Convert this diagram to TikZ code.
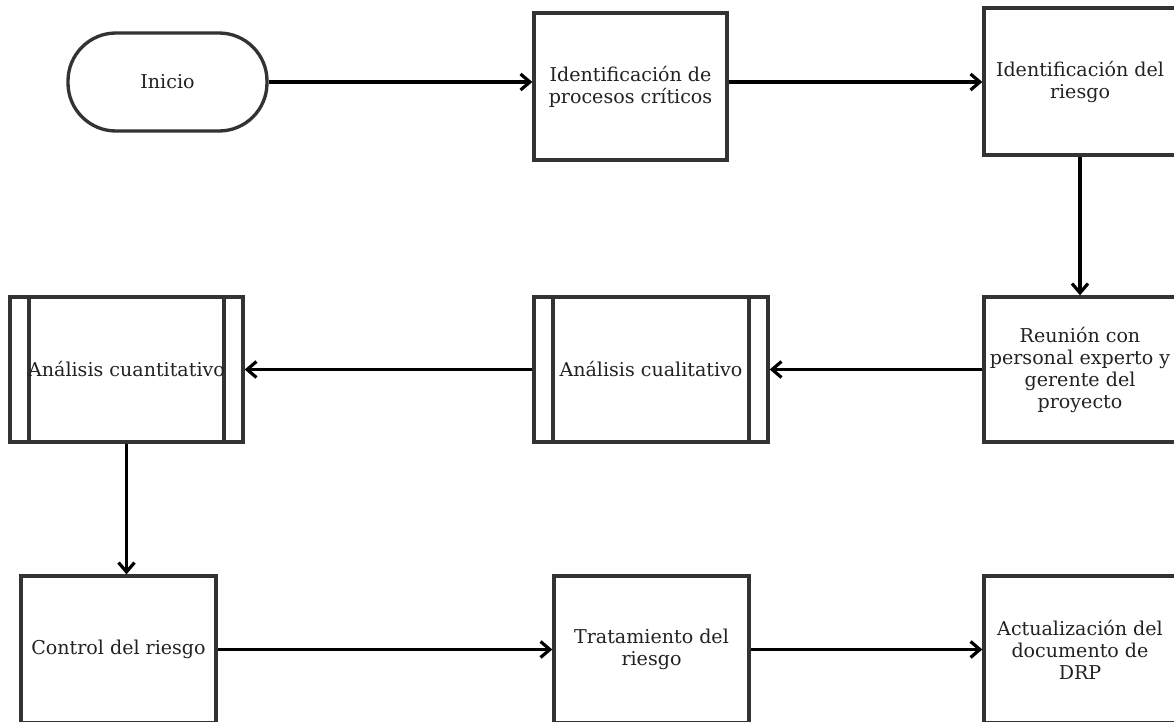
\documentclass[tikz,border=0pt]{standalone}
\usepackage{fontspec}
\setmainfont{DejaVu Serif}
\usetikzlibrary{arrows.meta}
\definecolor{edge}{HTML}{333333}
\definecolor{ink}{HTML}{222222}
\tikzset{
  box/.style={draw=edge, line width=2.5pt, fill=white, text=ink, align=center,
    minimum width=144.75pt, minimum height=110.25pt, inner sep=2pt,
    font=\fontsize{14.3}{16.5}\selectfont},
  startbox/.style={box, rounded corners=36pt, minimum width=149.25pt, minimum height=73.5pt},
  subproc/.style={box, minimum width=175pt, minimum height=108.75pt,
    path picture={
      \draw[edge, line width=2.5pt]
        ([xshift=14.25pt]path picture bounding box.north west) -- ([xshift=14.25pt]path picture bounding box.south west)
        ([xshift=-14.25pt]path picture bounding box.north east) -- ([xshift=-14.25pt]path picture bounding box.south east);
    }},
  flow/.style={draw=black, line width=2.4pt, -{Straight Barb[length=7pt,width=12pt]}},
}
\begin{document}
\begin{tikzpicture}[x=0.75pt, y=-0.75pt]
  \clip (0,0) rectangle (1174,721);
  \fill[white] (0,0) rectangle (1174,721);
  % first row
  \node[startbox] (inicio) at (167.5,82) {Inicio};
  \node[box] (procesos) at (630.5,86.5) {Identificación de\\procesos críticos};
  \node[box, minimum width=144pt] (riesgo) at (1080,81.5) {Identificación del\\riesgo};
  % second row
  \node[box, minimum width=144pt, minimum height=108.75pt] (reunion) at (1080,369.5)
    {Reunión con\\personal experto y\\gerente del\\proyecto};
  \node[subproc, minimum width=175.5pt] (cualitativo) at (651,369.5) {Análisis cualitativo};
  \node[subproc, minimum width=174.75pt] (cuantitativo) at (126.5,369.5) {Análisis cuantitativo};
  % third row
  \node[box, minimum width=146.25pt] (control) at (118.5,649.5) {Control del riesgo};
  \node[box, minimum width=146.25pt] (tratamiento) at (651.5,649.5) {Tratamiento del\\riesgo};
  \node[box, minimum width=144pt] (actualizacion) at (1080,649.5)
    {Actualización del\\documento de\\DRP};
  % connectors
  \draw[flow] (inicio.east) -- (inicio.east -| procesos.west);
  \draw[flow] (procesos.east |- inicio.east) -- (inicio.east -| riesgo.west);
  \draw[flow] (riesgo.south) -- (reunion.north);
  \draw[flow] (reunion.west) -- (cualitativo.east);
  \draw[flow] (cualitativo.west) -- (cuantitativo.east);
  \draw[flow] (cuantitativo.south) -- (cuantitativo.south |- control.north);
  \draw[flow] (control.east) -- (tratamiento.west);
  \draw[flow] (tratamiento.east) -- (actualizacion.west);
\end{tikzpicture}
\end{document}
